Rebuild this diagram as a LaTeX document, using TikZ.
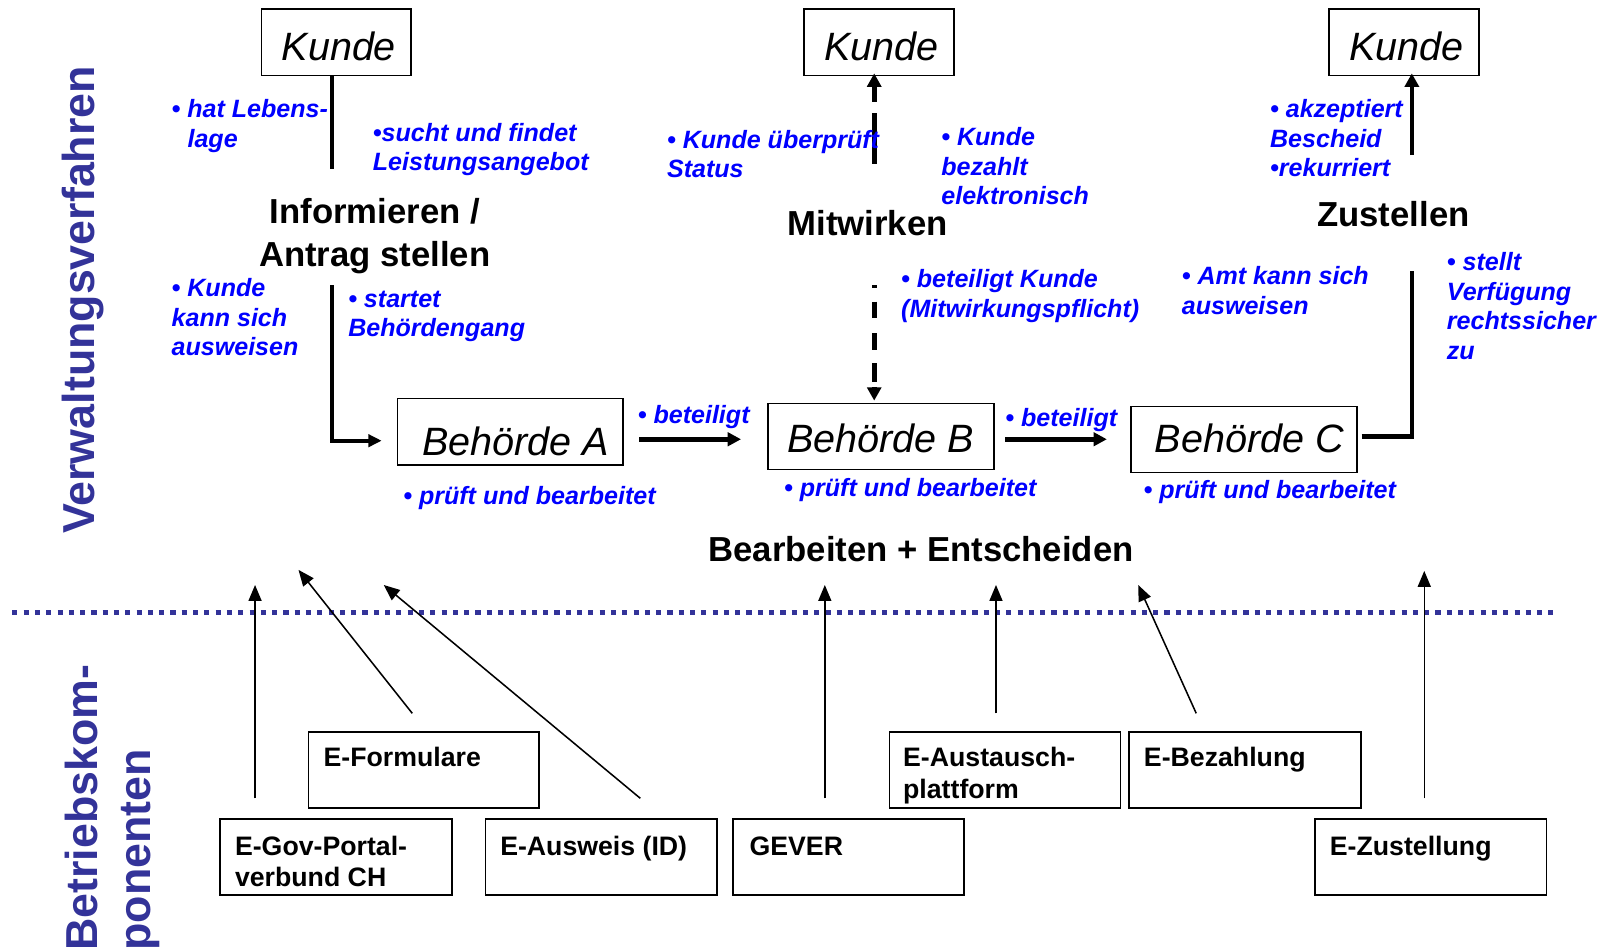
\documentclass[tikz,border=0pt]{standalone}
\usepackage{fontspec}
\setmainfont{Liberation Sans}
\usetikzlibrary{arrows.meta,calc}
\definecolor{navy}{HTML}{333399}
\definecolor{txtblue}{HTML}{0000FF}
\begin{document}
\begin{tikzpicture}[x=1pt,y=-1pt,
  kbox/.style={draw, line width=1.5pt, inner sep=0pt, minimum width=146pt, minimum height=65pt,
    font=\fontsize{38.5pt}{46pt}\selectfont\itshape, text height=40pt, text depth=4.4pt},
  bbox/.style={draw, line width=1.5pt, inner sep=0pt, minimum width=220pt, minimum height=64.5pt,
    font=\fontsize{38.5pt}{46pt}\selectfont\itshape, text depth=4pt},
  head/.style={inner sep=0pt, font=\fontsize{33.8pt}{41.6pt}\selectfont\bfseries},
  side/.style={text=navy, inner sep=0pt, font=\fontsize{43.6pt}{52pt}\selectfont\bfseries},
  bluetxt/.style={text=txtblue, inner sep=0pt, anchor=north west, align=left,
    font=\fontsize{24.4pt}{28.8pt}\selectfont\bfseries\itshape},
  comp/.style={draw, line width=1.8pt, inner sep=0pt, minimum width=225pt, minimum height=74pt, anchor=north west},
  complbl/.style={inner sep=0pt, anchor=north west, align=left, font=\fontsize{26pt}{30.8pt}\selectfont\bfseries},
  thickline/.style={line width=4.2pt},
  thickarrow/.style={line width=4.5pt, -{Triangle[width=13pt,length=13pt]}},
  dasharrow/.style={line width=4.8pt, -{Triangle[width=13.5pt,length=13pt]}},
  thinarrow/.style={line width=1.5pt, -{Triangle[width=12.7pt,length=15.6pt]}},
  sepline/.style={draw=navy, line width=5pt, dash pattern=on 5pt off 6pt}
]
\useasboundingbox (0,0) rectangle (1568,923);

% Kunde boxes
\node[kbox] (k1) at (327.5,41.2) {\hspace*{5pt}Kunde};
\node[kbox] (k2) at (856,41.2) {\hspace*{5pt}Kunde};
\node[kbox] (k3) at (1367.2,41.2) {\hspace*{5pt}Kunde};

% Behoerde boxes
\node[bbox, minimum height=65pt, text height=50pt] (ba) at (497,420.5) {\hspace*{10pt}Behörde A};
\node[bbox, text height=36pt] (bb) at (857.9,425) {Behörde B};
\node[bbox, text height=30pt] (bc) at (1211.7,428) {\hspace*{10pt}Behörde C};

% headings
\node[head, anchor=north, align=center] (h1) at (365,191.4) {\rule{0pt}{26pt}Informieren /\\Antrag stellen};
\node[head, anchor=base] (h2) at (845,229.4) {Mitwirken};
\node[head, anchor=base] (h3) at (1357,220.9) {Zustellen};
\node[head, anchor=base] (h4) at (897,547) {Bearbeiten + Entscheiden};

% side labels
\node[side, rotate=90, anchor=base west] (vv) at (92,520) {Verwaltungsverfahren};
\node[side, rotate=90, anchor=base west] (bk1) at (94.5,926) {Betriebskom-};
\node[side, rotate=90, anchor=base west] (bk2) at (146.6,926) {ponenten};

% upper connectors
\coordinate (k1foot) at (323,165);
\draw[thickline] (k1foot |- k1.south) -- (k1foot);
\coordinate (lstart) at (323,278);
\coordinate (lcorner) at (323,429.2);
\coordinate (ltip) at (371.7,429.2);
\draw[thickline, -{Triangle[width=12pt,length=13pt]}] (lstart) -- (lcorner) -- (ltip);
\coordinate (abs) at (622.6,427.8);
\coordinate (abt) at (721.7,427.8);
\draw[thickarrow] (abs) -- (abt);
\coordinate (bcs) at (979,427.8);
\coordinate (bct) at (1078,427.8);
\draw[thickarrow] (bcs) -- (bct);
\coordinate (k2up) at (851.4,159.7);
\coordinate (k2tip) at (851.4,71.5);
\draw[dasharrow, dash pattern=on 49.4pt off 11.3pt on 300pt] (k2up) -- (k2tip);
\coordinate (k2down) at (851.4,277.6);
\coordinate (bbtip) at (851.4,390.2);
\draw[dasharrow, dash pattern=on 3.2pt off 13pt on 16.2pt off 14.6pt on 16.2pt off 13pt on 18pt off 5pt on 40pt] (k2down) -- (bbtip);
\coordinate (cstart) at (1326,425);
\coordinate (ccorner) at (1375,425);
\coordinate (cend) at (1375,264);
\draw[line width=4.4pt] (cstart) -- (ccorner) -- (cend);
\coordinate (k3up) at (1375,151);
\coordinate (k3tip) at (1375,71.5);
\draw[line width=4.4pt, -{Triangle[width=13.5pt,length=13pt]}] (k3up) -- (k3tip);

% blue annotations
\node[bluetxt] (b1) at (167,94.5) {\rule{0pt}{20pt}• hat Lebens-\\\hspace*{15.5pt}lage};
\node[bluetxt] (b2) at (363,117.5) {\rule{0pt}{20pt}•sucht und findet\\Leistungsangebot};
\node[bluetxt] (b3) at (167,268.5) {\rule{0pt}{20pt}• Kunde\\kann sich\\ausweisen};
\node[bluetxt] (b4) at (339,279) {\rule{0pt}{20pt}• startet\\Behördengang};
\node[bluetxt] (b5) at (621,392) {\rule{0pt}{20pt}• beteiligt};
\node[bluetxt] (b6) at (392.6,471) {\rule{0pt}{20pt}• prüft und bearbeitet};
\node[bluetxt] (b7) at (649.5,124) {\rule{0pt}{20pt}• Kunde überprüft\\Status};
\node[bluetxt] (b8) at (916.6,121.7) {\rule{0pt}{20pt}• Kunde\\bezahlt\\elektronisch};
\node[bluetxt] (b9) at (877.5,259.8) {\rule{0pt}{20pt}• beteiligt Kunde\\(Mitwirkungspflicht)};
\node[bluetxt] (b10) at (979,395.5) {\rule{0pt}{20pt}• beteiligt};
\node[bluetxt] (b11) at (763.5,463.3) {\rule{0pt}{20pt}• prüft und bearbeitet};
\node[bluetxt] (b12) at (1236.8,94.5) {\rule{0pt}{20pt}• akzeptiert\\Bescheid\\•rekurriert};
\node[bluetxt] (b13) at (1150.8,257.3) {\rule{0pt}{20pt}• Amt kann sich\\ausweisen};
\node[bluetxt] (b14) at (1409,243.5) {\rule{0pt}{20pt}• stellt\\Verfügung\\rechtssicher\\zu};
\node[bluetxt] (b15) at (1113.5,465.7) {\rule{0pt}{20pt}• prüft und bearbeitet};

% separator
\coordinate (sl) at (12,596.5);
\coordinate (sr) at (1512,596.5);
\draw[sepline] (sl) -- (sr);

% components
\node[comp, minimum width=224.6pt] (eform) at (299.6,711.6) {};
\node[comp, minimum width=225.5pt] (egov) at (213.7,797) {};
\node[comp] (eausweis) at (472,797) {};
\node[comp] (gever) at (712.8,797) {};
\node[comp] (eaust) at (865.4,711.6) {};
\node[comp, minimum width=225.5pt] (ebez) at (1098.9,711.6) {};
\node[comp, minimum width=225.6pt] (ezust) at (1279.7,797) {};

\node[complbl] (teform) at ($(eform.north west)+(15.4,14)$) {\rule{0pt}{21pt}E-Formulare};
\node[complbl] (tegov) at ($(egov.north west)+(15,14.5)$) {\rule{0pt}{21pt}E-Gov-Portal-\\verbund CH};
\node[complbl] (teausweis) at ($(eausweis.north west)+(15,14.5)$) {\rule{0pt}{21pt}E-Ausweis (ID)};
\node[complbl] (tgever) at ($(gever.north west)+(17,14.5)$) {\rule{0pt}{21pt}GEVER};
\node[complbl] (teaust) at ($(eaust.north west)+(14,14)$) {\rule{0pt}{21pt}E-Austausch-\\plattform};
\node[complbl] (tebez) at ($(ebez.north west)+(15,14)$) {\rule{0pt}{21pt}E-Bezahlung};
\node[complbl] (tezust) at ($(ezust.north west)+(15.3,14.5)$) {\rule{0pt}{21pt}E-Zustellung};

% component arrows
\coordinate (a1s) at (248.4,777.5); \coordinate (a1t) at (248.4,569.7);
\coordinate (a2s) at (401.5,694.7); \coordinate (a2t) at (290.7,555);
\coordinate (a3s) at (623.6,777.5); \coordinate (a3t) at (373.7,569.7);
\coordinate (a4s) at (803.3,777.5); \coordinate (a4t) at (803.3,569.7);
\coordinate (a5s) at (970,694.7);   \coordinate (a5t) at (970,569.7);
\coordinate (a6s) at (1165,694.7);  \coordinate (a6t) at (1108.5,569.7);
\coordinate (a7s) at (1387.1,777.5); \coordinate (a7t) at (1387.1,556);
\draw[thinarrow] (a1s) -- (a1t);
\draw[thinarrow] (a2s) -- (a2t);
\draw[thinarrow] (a3s) -- (a3t);
\draw[thinarrow] (a4s) -- (a4t);
\draw[thinarrow] (a5s) -- (a5t);
\draw[thinarrow] (a6s) -- (a6t);
\draw[thinarrow] (a7s) -- (a7t);
\end{tikzpicture}
\end{document}
